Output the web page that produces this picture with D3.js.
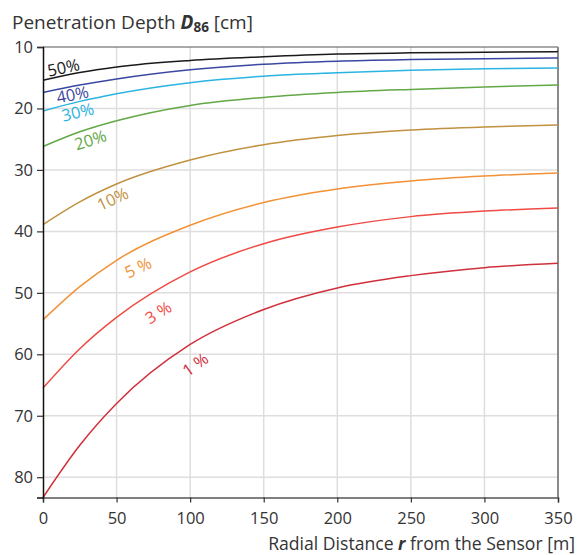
<!DOCTYPE html>
<html>
<head>
<meta charset="utf-8">
<script src="https://d3js.org/d3.v7.min.js"></script>
<style>
  body { margin: 0; background: #fff; }
  text { font-family: "Open Sans", "Noto Sans", sans-serif; }
</style>
</head>
<body>
<div id="chart"></div>
<script>
// distances (m) where depths were read
var distances = [0, 25, 50, 100, 150, 200, 250, 300, 350];

// penetration depth D86 (cm) for each soil moisture level
var d50 = [15.4, 14.15, 13.25, 12.2, 11.6, 11.15, 10.95, 10.85, 10.75];
var d40 = [17.4, 16.2, 15.2, 13.7, 12.8, 12.3, 12.05, 11.9, 11.8];
var d30 = [20.4, 18.85, 17.6, 15.8, 14.75, 14.2, 13.8, 13.55, 13.4];
var d20 = [26.2, 23.8, 22.0, 19.5, 18.2, 17.4, 16.9, 16.5, 16.2];
var d10 = [38.9, 35.2, 32.3, 28.4, 25.9, 24.4, 23.5, 23.0, 22.7];
var d5  = [54.4, 49.0, 44.7, 39.0, 35.3, 33.1, 31.8, 31.0, 30.5];
var d3v = [65.5, 59.1, 54.0, 46.6, 42.0, 39.3, 37.6, 36.7, 36.2];
var d1  = [83.3, 74.8, 68.0, 58.4, 52.7, 49.2, 47.2, 45.9, 45.2];

var seriesNames = ["50%", "40%", "30%", "20%", "10%", "5 %", "3 %", "1 %"];
var seriesValues = [d50, d40, d30, d20, d10, d5, d3v, d1];
var colors = ["#1a1a1a", "#3a47a0", "#2bb4e2", "#62a847", "#c0913f", "#f39136", "#ef4a44", "#d0303c"];

var xTicks = [0, 50, 100, 150, 200, 250, 300, 350];
var yTicks = [10, 20, 30, 40, 50, 60, 70, 80];

// where each curve label sits (distance) and how far off the curve (px)
var labelAt = [15, 19, 22, 30, 44, 60, 72, 96];
var labelOff = [-8, 8, 10, 11, 12, 16, 18, 19];

var W = 577, H = 555;
var margin = {top: 47, right: 19, bottom: 57.5, left: 43};
var width = W - margin.left - margin.right,
    height = H - margin.top - margin.bottom;

var svg = d3.select("#chart").append("svg")
    .attr("width", W).attr("height", H);

var g = svg.append("g")
    .attr("transform", "translate(" + margin.left + "," + margin.top + ")");

var x = d3.scaleLinear().domain([0, 350]).range([0, width]);
var y = d3.scaleLinear().domain([10, 83.3]).range([0, height]);

// grid
g.append("g").selectAll("line")
  .data(xTicks.filter(function(d){ return d > 0 && d < 350; }))
  .enter().append("line")
    .attr("x1", function(d){ return x(d); }).attr("x2", function(d){ return x(d); })
    .attr("y1", 0).attr("y2", height)
    .attr("stroke", "#dedede").attr("stroke-width", 1.5);

g.append("g").selectAll("line")
  .data(yTicks.filter(function(d){ return d > 10; }))
  .enter().append("line")
    .attr("x1", 0).attr("x2", width)
    .attr("y1", function(d){ return y(d); }).attr("y2", function(d){ return y(d); })
    .attr("stroke", "#dedede").attr("stroke-width", 1.5);

// frame top / right
g.append("line").attr("x1", 0).attr("x2", width).attr("y1", 0).attr("y2", 0)
  .attr("stroke", "#555").attr("stroke-width", 1);
g.append("line").attr("x1", width).attr("x2", width).attr("y1", 0).attr("y2", height)
  .attr("stroke", "#8a8a8a").attr("stroke-width", 2);

// curves
var line = d3.line()
  .x(function(d){ return x(d[0]); })
  .y(function(d){ return y(d[1]); })
  .curve(d3.curveMonotoneX);

seriesValues.forEach(function(vals, i) {
  g.append("path")
    .datum(distances.map(function(dx, j){ return [dx, vals[j]]; }))
    .attr("d", line)
    .attr("fill", "none")
    .attr("stroke", colors[i])
    .attr("stroke-width", 1.5);
});

// axes
var xAxis = g.append("g")
  .attr("transform", "translate(0," + height + ")")
  .call(d3.axisBottom(x).tickValues(xTicks).tickSize(5).tickPadding(10));
var yAxis = g.append("g")
  .call(d3.axisLeft(y).tickValues(yTicks).tickSize(6).tickPadding(4));

[xAxis, yAxis].forEach(function(a) {
  a.select(".domain").attr("stroke-width", 1.5);
  a.selectAll("text").attr("font-size", 16.5).attr("fill", "#333")
    .attr("font-family", "'Open Sans', sans-serif");
  a.selectAll(".tick line").attr("stroke", "#333").attr("stroke-width", 1.2);
});
xAxis.select(".domain").attr("stroke", "#555");
yAxis.select(".domain").attr("stroke", "#111");

// curve labels, rotated along the curve
function interp(vals, d) {
  for (var j = 0; j < distances.length - 1; j++) {
    if (d <= distances[j + 1]) {
      var t = (d - distances[j]) / (distances[j + 1] - distances[j]);
      return vals[j] + t * (vals[j + 1] - vals[j]);
    }
  }
  return vals[vals.length - 1];
}

seriesNames.forEach(function(name, i) {
  var vals = seriesValues[i];
  var d = labelAt[i];
  var px = x(d), py = y(interp(vals, d));
  var p1 = [x(Math.max(0, d - 8)), y(interp(vals, Math.max(0, d - 8)))];
  var p2 = [x(d + 8), y(interp(vals, d + 8))];
  var ang = Math.atan2(p2[1] - p1[1], p2[0] - p1[0]) * 180 / Math.PI;
  g.append("text")
    .attr("transform", "translate(" + px + "," + py + ") rotate(" + ang + ")")
    .attr("y", labelOff[i])
    .attr("dy", "0.35em")
    .attr("text-anchor", "middle")
    .attr("font-size", 16.5)
    .attr("fill", colors[i])
    .text(name);
});

// titles
var title = svg.append("text")
  .attr("x", 12).attr("y", 29)
  .attr("font-size", 19).attr("fill", "#333");
title.append("tspan").text("Penetration Depth ");
title.append("tspan").attr("font-weight", "bold").attr("font-style", "italic").text("D");
title.append("tspan").attr("font-weight", "bold").attr("font-size", 13.5).attr("dy", 3).text("86");
title.append("tspan").attr("dy", -3).text(" [cm]");

var xt = svg.append("text")
  .attr("x", 575).attr("y", 550)
  .attr("text-anchor", "end")
  .attr("font-size", 17.6).attr("fill", "#333");
xt.append("tspan").text("Radial Distance ");
xt.append("tspan").attr("font-weight", "bold").attr("font-style", "italic").text("r");
xt.append("tspan").text(" from the Sensor [m]");
</script>
</body>
</html>
